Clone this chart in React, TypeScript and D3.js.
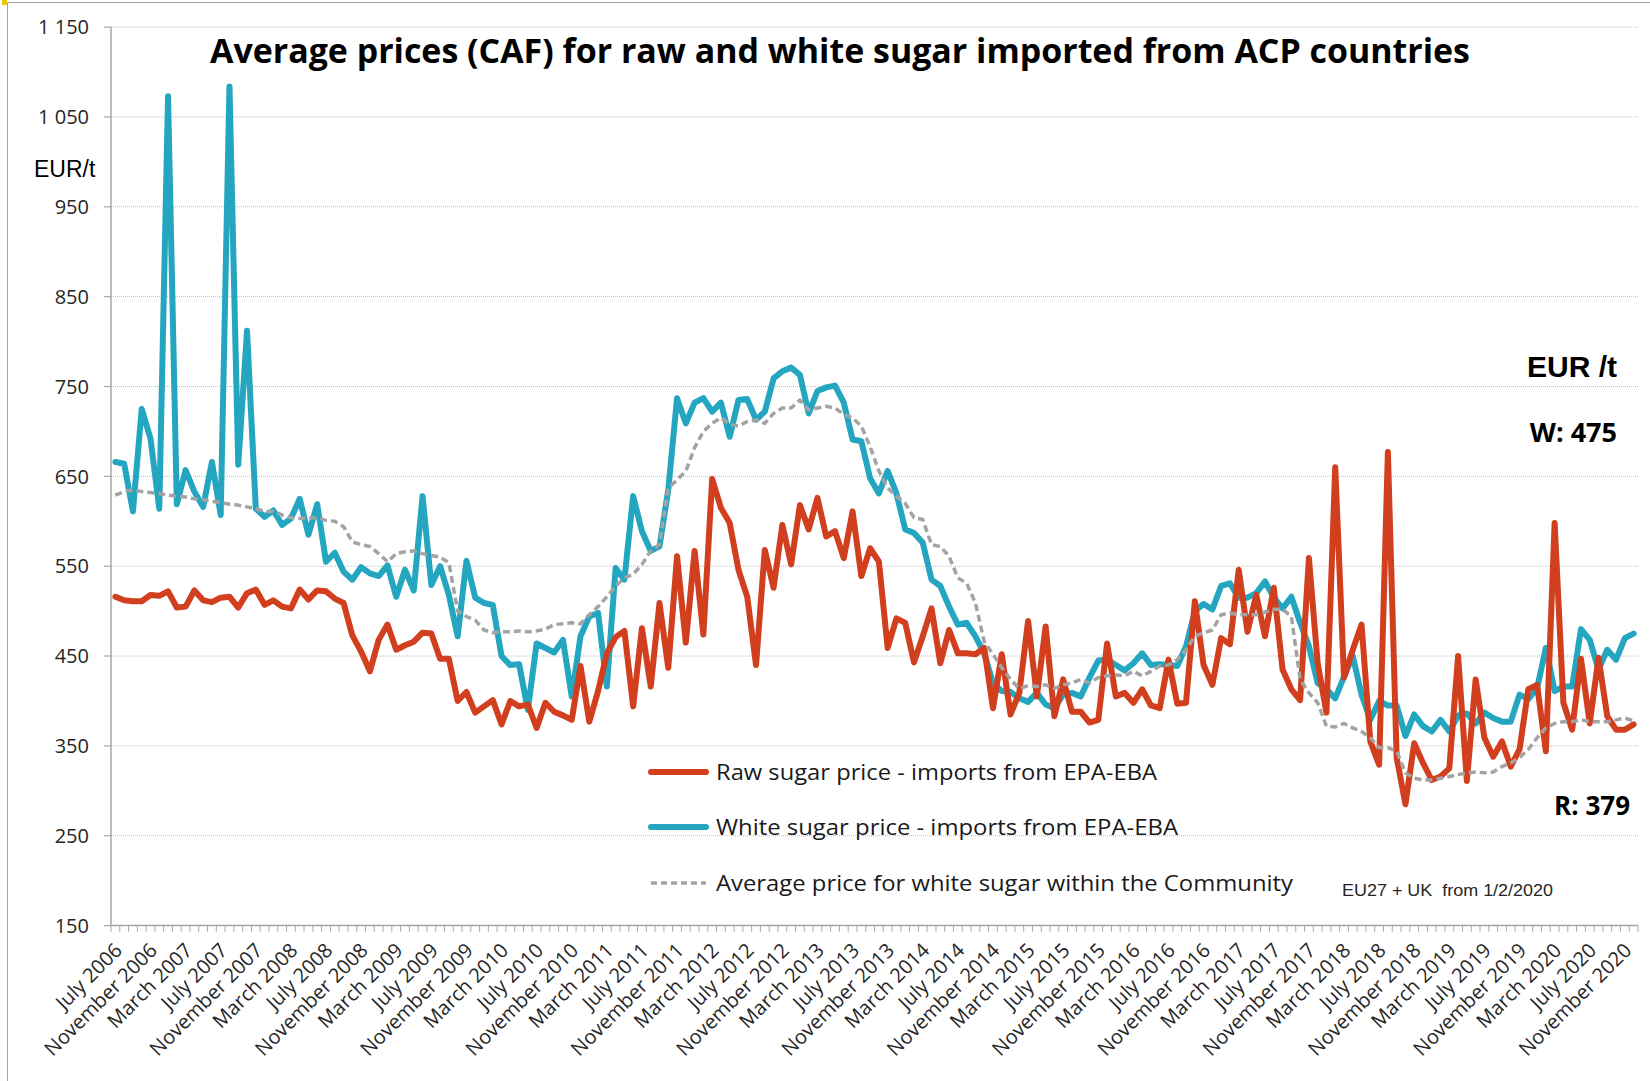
import React from 'react';
import * as d3 from 'd3';

// monthly prices, July 2006 - December 2020 (EUR/t)
const rawPrice = [
  516, 512, 511, 511, 518, 517, 522, 504, 505, 523, 512, 510, 515, 516, 504, 520, 524, 507, 512, 505,
  503, 524, 513, 523, 522, 514, 509, 473, 455, 433, 468, 485, 457, 462, 466, 476, 475, 447, 447, 400,
  410, 387, 394, 401, 374, 400, 394, 396, 370, 398, 388, 384, 379, 439, 377, 411, 453, 471, 478, 394,
  481, 416, 509, 437, 561, 465, 567, 474, 647, 615, 598, 546, 516, 440, 568, 526, 596, 552, 618, 591,
  626, 583, 589, 559, 611, 539, 570, 555, 459, 492, 487, 443, 472, 503, 442, 479, 453, 453, 452, 459,
  392, 452, 385, 409, 489, 405, 483, 383, 424, 388, 388, 376, 379, 464, 405, 409, 398, 413, 395, 392,
  446, 397, 398, 511, 440, 418, 470, 463, 546, 477, 518, 472, 526, 435, 413, 401, 559, 442, 387, 660,
  426, 457, 485, 355, 329, 677, 337, 285, 353, 331, 312, 316, 325, 450, 311, 424, 359, 338, 355, 327,
  346, 413, 418, 344, 598, 398, 368, 447, 375, 448, 383, 368, 368, 374,
];

const whitePrice = [
  666, 664, 611, 725, 692, 614, 1073, 619, 657, 633, 616, 666, 607, 1084, 663, 812, 614, 605, 612, 596,
  603, 625, 585, 619, 555, 565, 544, 535, 549, 542, 539, 551, 516, 546, 523, 628, 529, 550, 518, 472,
  556, 515, 509, 507, 450, 440, 441, 390, 464, 459, 454, 468, 405, 472, 494, 498, 416, 548, 535, 628,
  589, 567, 572, 635, 737, 709, 732, 737, 722, 732, 694, 735, 736, 713, 722, 759, 767, 771, 763, 720,
  745, 749, 751, 732, 691, 689, 648, 631, 656, 631, 591, 587, 576, 535, 528, 505, 485, 487, 472, 453,
  420, 411, 410, 403, 399, 409, 396, 392, 407, 409, 405, 426, 445, 446, 440, 434, 442, 453, 440, 441,
  440, 439, 461, 500, 508, 502, 528, 531, 515, 515, 520, 533, 515, 503, 516, 487, 461, 420, 413, 403,
  427, 450, 407, 379, 400, 395, 395, 361, 385, 372, 366, 379, 366, 384, 386, 375, 387, 381, 377, 377,
  407, 402, 414, 459, 411, 416, 416, 480, 468, 435, 457, 446, 470, 475,
];

const communityPrice = [
  629, 633, 635, 633, 632, 631, 629, 628, 627, 625, 624, 622, 621, 619, 618, 616, 614, 611, 611, 607,
  604, 603, 604, 604, 601, 600, 594, 577, 574, 572, 564, 555, 564, 566, 567, 564, 562, 560, 554, 500,
  494, 490, 479, 476, 477, 477, 478, 477, 478, 480, 485, 486, 487, 486, 496, 505, 516, 528, 537, 541,
  552, 567, 574, 637, 646, 656, 682, 700, 709, 715, 708, 706, 711, 713, 709, 720, 726, 726, 735, 724,
  726, 728, 726, 719, 715, 706, 683, 656, 637, 628, 620, 604, 602, 574, 572, 561, 537, 531, 509, 466,
  452, 437, 424, 414, 417, 416, 418, 414, 418, 420, 424, 420, 426, 428, 429, 428, 433, 428, 433, 439,
  440, 446, 457, 472, 476, 479, 496, 498, 496, 496, 496, 499, 502, 502, 494, 424, 409, 398, 372, 371,
  375, 370, 366, 359, 348, 348, 344, 320, 314, 312, 312, 314, 316, 318, 320, 321, 320, 321, 327, 331,
  337, 346, 359, 370, 375, 377, 377, 379, 377, 377, 377, 379, 381, 378,
];

// one label every 4 months, starting at the first category
const tickLabels = [
  'July 2006', 'November 2006', 'March 2007', 'July 2007', 'November 2007', 'March 2008',
  'July 2008', 'November 2008', 'March 2009', 'July 2009', 'November 2009', 'March 2010',
  'July 2010', 'November 2010', 'March 2011', 'July 2011', 'November 2011', 'March 2012',
  'July 2012', 'November 2012', 'March 2013', 'July 2013', 'November 2013', 'March 2014',
  'July 2014', 'November 2014', 'March 2015', 'July 2015', 'November 2015', 'March 2016',
  'July 2016', 'November 2016', 'March 2017', 'July 2017', 'November 2017', 'March 2018',
  'July 2018', 'November 2018', 'March 2019', 'July 2019', 'November 2019', 'March 2020',
  'July 2020', 'November 2020',
];

const yTicks = [150, 250, 350, 450, 550, 650, 750, 850, 950, 1050, 1150];

const RED = '#D13F1F';
const BLUE = '#24A6C0';
const GREY = '#A3A3A3';

const legendItems = [
  { label: 'Raw sugar price - imports from EPA-EBA', color: RED, dash: null, len: 441 },
  { label: 'White sugar price - imports from EPA-EBA', color: BLUE, dash: null, len: 462 },
  { label: 'Average price for white sugar within the Community', color: GREY, dash: '6,4', len: 577 },
];

export default function App() {
  const W = 1650;
  const H = 1081;
  const left = 111;
  const right = 1638;
  const bottom = 925.6;
  const top = 27.1;

  const cats = d3.range(rawPrice.length);
  const x = d3.scaleBand<number>().domain(cats).range([left, right]);
  const bw = x.bandwidth();
  const cx = (i: number) => (x(i) as number) + bw / 2;
  const y = d3.scaleLinear().domain([150, 1150]).range([bottom, top]);

  const line = d3.line<number>().x((_, i) => cx(i)).y(d => y(d));
  const fmt = d3.formatLocale({ decimal: '.', thousands: ' ', grouping: [3], currency: ['', ''] }).format(',');

  const sans = '"Open Sans", "Noto Sans", sans-serif';
  const arial = '"Liberation Sans", Arial, sans-serif';

  return (
    <svg width={W} height={H} style={{ position: 'absolute', left: 0, top: 0, background: '#fff' }}>
      <rect x={0} y={0} width={W} height={H} fill="#fff" />
      {/* chart frame */}
      <line x1={7.5} y1={2.5} x2={W} y2={2.5} stroke="#a6a6a6" />
      <line x1={7.5} y1={2.5} x2={7.5} y2={H} stroke="#a6a6a6" />
      <rect x={2} y={0} width={5} height={5} fill="#F2C500" />

      {/* gridlines + y ticks */}
      {yTicks.map(t => (
        <g key={t}>
          {t !== 150 && (
            <line x1={left} x2={right} y1={y(t)} y2={y(t)} stroke="#bdbdbd" strokeWidth={1} strokeDasharray="1,1" />
          )}
          <line x1={left - 7} x2={left} y1={y(t)} y2={y(t)} stroke="#a6a6a6" strokeWidth={1.2} />
          <text x={89} y={y(t)} dy="0.36em" textAnchor="end" fontFamily={sans} fontSize={20} fill="#262626">
            {fmt(t)}
          </text>
        </g>
      ))}

      {/* axes */}
      <line x1={left} x2={left} y1={top} y2={bottom} stroke="#a6a6a6" strokeWidth={1.5} />
      <line x1={left} x2={right} y1={bottom} y2={bottom} stroke="#a6a6a6" strokeWidth={1.5} />
      {d3.range(rawPrice.length + 1).map(k => (
        <line key={k} x1={left + k * bw} x2={left + k * bw} y1={bottom} y2={bottom + 6} stroke="#a6a6a6" strokeWidth={1} />
      ))}
      {tickLabels.map((lab, k) => {
        const xi = cx(k * 4) + 3;
        return (
          <text
            key={lab}
            transform={`translate(${xi},${bottom + 21}) rotate(-45)`}
            textAnchor="end"
            dy="0.35em"
            fontFamily={sans}
            fontSize={20}
            fill="#262626"
          >
            {lab}
          </text>
        );
      })}

      {/* series */}
      <path d={line(whitePrice) || ''} fill="none" stroke={BLUE} strokeWidth={6} strokeLinejoin="round" strokeLinecap="round" />
      <path d={line(rawPrice) || ''} fill="none" stroke={RED} strokeWidth={6} strokeLinejoin="round" strokeLinecap="round" />
      <path d={line(communityPrice) || ''} fill="none" stroke={GREY} strokeWidth={3.5} strokeDasharray="7,4" strokeLinejoin="round" />

      {/* title */}
      <text x={210} y={63} fontFamily={sans} fontWeight={700} fontSize={34} fill="#000" textLength={1260} lengthAdjust="spacingAndGlyphs">
        Average prices (CAF) for raw and white sugar imported from ACP countries
      </text>

      <text x={34} y={177} fontFamily={arial} fontSize={23} fill="#000">EUR/t</text>

      <text x={1617} y={377} textAnchor="end" fontFamily={arial} fontWeight={700} fontSize={30} fill="#000">EUR /t</text>
      <text x={1617} y={442} textAnchor="end" fontFamily={sans} fontWeight={700} fontSize={27} fill="#000">W: 475</text>
      <text x={1630} y={815} textAnchor="end" fontFamily={sans} fontWeight={700} fontSize={26} fill="#000">R: 379</text>

      {/* legend */}
      {legendItems.map((d, i) => {
        const ly = [772, 827, 883][i];
        return (
          <g key={d.label}>
            <line
              x1={651}
              x2={706}
              y1={ly}
              y2={ly}
              stroke={d.color}
              strokeWidth={d.dash ? 3.5 : 6}
              strokeDasharray={d.dash || undefined}
              strokeLinecap={d.dash ? 'butt' : 'round'}
            />
            <text x={716} y={ly + 8} fontFamily={sans} fontSize={21} fill="#1a1a1a" textLength={d.len} lengthAdjust="spacingAndGlyphs">
              {d.label}
            </text>
          </g>
        );
      })}
      <text x={1342} y={896} fontFamily={arial} fontSize={16} fill="#262626" textLength={211} lengthAdjust="spacingAndGlyphs" style={{ whiteSpace: 'pre' }}>
        {'EU27 + UK  from 1/2/2020'}
      </text>
    </svg>
  );
}
